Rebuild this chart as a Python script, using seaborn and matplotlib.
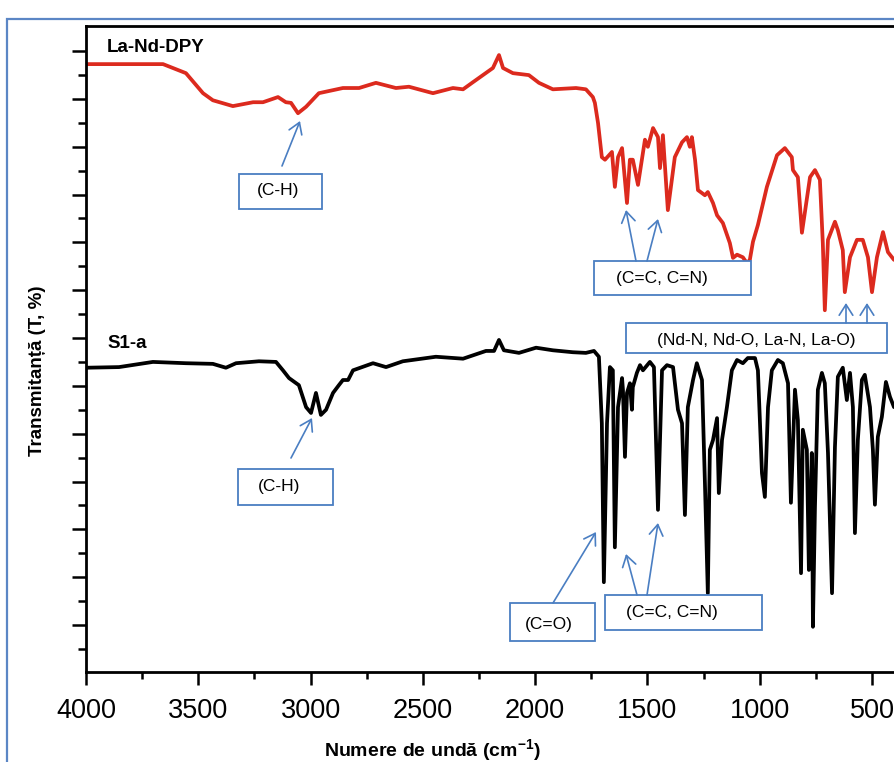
import matplotlib
matplotlib.use("Agg")
import matplotlib.pyplot as plt
import seaborn as sns
import numpy as np
import pandas as pd
from matplotlib.patches import Rectangle, FancyArrowPatch

# ---------------- data ----------------
red_wn = [4000, 3657, 3555, 3479, 3435, 3346, 3256, 3212, 3145, 3110, 3087, 3056, 3020,
          2963, 2856, 2784, 2709, 2620, 2562, 2455, 2366, 2321, 2277, 2188, 2161, 2143,
          2099, 2028, 1983, 1921, 1818, 1774, 1743, 1734, 1720, 1703, 1689, 1658, 1645,
          1631, 1613, 1591, 1578, 1565, 1542, 1511, 1498, 1475, 1453, 1444, 1431, 1409,
          1378, 1346, 1324, 1311, 1302, 1288, 1275, 1244, 1231, 1208, 1190, 1164, 1133,
          1119, 1101, 1075, 1057, 1044, 1030, 1008, 968, 923, 888, 857, 852, 830, 812,
          776, 754, 732, 719, 710, 696, 665, 652, 630, 621, 598, 567, 541, 518, 500,
          478, 451, 429, 402]
red_t = [94.1, 94.1, 92.7, 89.6, 88.5, 87.6, 88.2, 88.2, 89.0, 88.2, 88.1, 86.5, 87.5,
         89.6, 90.4, 90.4, 91.2, 90.4, 90.6, 89.6, 90.4, 90.2, 91.3, 93.5, 95.5, 93.5,
         92.7, 92.4, 91.2, 90.2, 90.4, 90.2, 89.0, 88.1, 85.0, 79.7, 79.3, 80.5, 75.1,
         79.7, 81.1, 72.6, 79.3, 79.3, 75.4, 82.4, 81.3, 84.2, 82.8, 78.0, 83.1, 71.5,
         79.7, 82.0, 82.8, 81.3, 82.8, 79.3, 74.6, 73.8, 74.3, 72.6, 70.7, 69.5, 66.4,
         64.1, 64.6, 64.2, 63.3, 63.8, 66.6, 69.2, 75.1, 80.0, 81.1, 79.7, 77.7, 76.6, 68.0,
         76.6, 77.7, 76.2, 66.4, 56.0, 66.9, 69.7, 68.4, 65.3, 58.8, 64.2, 66.9, 66.9, 64.2,
         58.8, 64.2, 68.1, 65.0, 63.8]

black_wn = [4000, 3853, 3702, 3555, 3435, 3377, 3332, 3230, 3154, 3123, 3096, 3052, 3020,
            2998, 2976, 2954, 2931, 2900, 2874, 2856, 2833, 2811, 2722, 2664, 2589, 2442,
            2321, 2219, 2183, 2161, 2139, 2072, 1996, 1921, 1832, 1774, 1738, 1716, 1703,
            1694, 1680, 1667, 1654, 1645, 1631, 1613, 1609, 1600, 1591, 1578, 1569, 1565,
            1547, 1533, 1520, 1489, 1471, 1453, 1435, 1413, 1386, 1364, 1346, 1333, 1320,
            1297, 1280, 1257, 1244, 1231, 1222, 1208, 1190, 1182, 1168, 1146, 1124, 1101,
            1075, 1053, 1021, 1008, 990, 977, 963, 946, 919, 897, 874, 861, 843, 830, 816,
            808, 790, 781, 768, 763, 754, 741, 723, 710, 696, 678, 665, 652, 630, 612, 598,
            585, 576, 563, 545, 532, 509, 496, 487, 474, 456, 438, 420, 402]
black_t = [47.1, 47.2, 48.0, 47.8, 47.7, 47.1, 47.8, 48.1, 48.0, 46.7, 45.5, 44.4, 41.0,
           40.1, 43.2, 39.8, 40.6, 43.2, 44.4, 45.2, 45.2, 46.7, 47.8, 47.2, 48.1, 48.8,
           48.5, 49.7, 49.7, 51.4, 49.8, 49.4, 50.2, 49.8, 49.5, 49.4, 49.7, 48.8, 38.5,
           13.9, 38.5, 47.2, 46.7, 19.3, 41.0, 45.5, 43.7, 33.3, 43.2, 44.7, 40.6, 44.1,
           46.3, 47.5, 46.7, 48.0, 47.2, 25.1, 46.7, 47.5, 47.2, 40.6, 38.5, 24.3, 41.0,
           45.2, 47.8, 45.2, 29.3, 12.2, 34.4, 35.9, 39.3, 27.7, 35.9, 41.0, 46.7, 48.3,
           47.8, 48.6, 48.6, 46.7, 30.8, 27.1, 41.0, 46.7, 48.3, 47.8, 44.7, 26.2, 43.7, 39.0,
           15.3, 37.5, 34.4, 15.8, 33.9, 7.0, 25.5, 43.7, 46.3, 44.7, 33.9, 12.2, 34.8, 45.7,
           47.1, 42.1, 46.3, 41.0, 21.5, 35.9, 45.2, 46.0, 41.0, 34.4, 25.9, 36.4, 39.5,
           44.9, 42.6, 41.0]

xtick_vals = [4000, 3500, 3000, 2500, 2000, 1500, 1000, 500]
series_names = ["La-Nd-DPY", "S1-a"]
annot_texts = ["(C-H)", "(C=C, C=N)", "(Nd-N, Nd-O, La-N, La-O)",
               "(C-H)", "(C=O)", "(C=C, C=N)"]

# ---------------- styling ----------------
sns.set_style("ticks")
plt.rcParams["font.family"] = ["Liberation Sans", "DejaVu Sans"]
plt.rcParams["text.color"] = "black"
plt.rcParams["axes.labelcolor"] = "black"
plt.rcParams["xtick.color"] = "black"
plt.rcParams["ytick.color"] = "black"
plt.rcParams["mathtext.fontset"] = "custom"
plt.rcParams["mathtext.rm"] = "Liberation Sans"
plt.rcParams["mathtext.bf"] = "Liberation Sans:bold"
plt.rcParams["mathtext.it"] = "Liberation Sans:italic"

W, H = 894, 762
fig = plt.figure(figsize=(W / 100, H / 100), dpi=100)
fig.patch.set_facecolor("white")

def fx(x):
    return x / W

def fy(y):
    return 1 - y / H

ax = fig.add_axes([fx(86), fy(672), (W - 86) / W, 646 / H])

df_red = pd.DataFrame({"wn": red_wn, "T": red_t})
df_blk = pd.DataFrame({"wn": black_wn, "T": black_t})
sns.lineplot(data=df_red, x="wn", y="T", ax=ax, color="#DC2A1E", lw=2.7,
             sort=False, estimator=None)
sns.lineplot(data=df_blk, x="wn", y="T", ax=ax, color="black", lw=2.7,
             sort=False, estimator=None)

ax.set_xlim(4000, 402)
ax.set_ylim(0, 100)
ax.set_xlabel("")
ax.set_ylabel("")

ax.set_xticks(xtick_vals)
ax.set_xticklabels([str(v) for v in xtick_vals])
ax.set_xticks(np.array(xtick_vals[:-1]) - 250, minor=True)

ytick_pos = (23 + 23.92 * np.arange(26)) / 6.46
ax.set_yticks(ytick_pos[1::2])
ax.set_yticks(ytick_pos[0::2], minor=True)
ax.set_yticklabels([])

for s in ["left", "bottom", "top"]:
    ax.spines[s].set_linewidth(2.0)
    ax.spines[s].set_color("black")
ax.spines["right"].set_visible(False)

ax.tick_params(axis="x", which="major", direction="out", length=9, width=1.8,
               labelsize=19.5, pad=10, colors="black")
ax.tick_params(axis="x", which="minor", direction="out", length=5, width=1.8,
               colors="black")
ax.tick_params(axis="y", which="major", direction="out", length=10, width=1.8,
               colors="black")
ax.tick_params(axis="y", which="minor", direction="out", length=5.5, width=1.8,
               colors="black")
ax.tick_params(top=False, right=False, which="both")

# axis titles
fig.text(fx(432), fy(750), "Numere de undă (cm$^{\\mathbf{-1}}$)", ha="center",
         va="center", fontsize=14, fontweight="bold", color="black")
fig.text(fx(38), fy(371), "Transmitanță (T, %)", rotation=90, ha="center",
         va="center", fontsize=13.5, fontweight="bold", color="black")

# series labels
fig.text(fx(107), fy(47), series_names[0], ha="left", va="center",
         fontsize=13.5, fontweight="bold", color="black")
fig.text(fx(107), fy(343), series_names[1], ha="left", va="center",
         fontsize=13.5, fontweight="bold", color="black")

# annotations (boxes in pixel layout)
blue = "#4A7EC2"
boxes = [  # (left, top, right, bottom, text_cx, text_cy)
    (239, 174, 322, 209, 278, 191),
    (594, 261, 751, 295, 662, 279),
    (626, 323, 887, 353, 756, 341),
    (238, 469, 333, 505, 279, 487),
    (510, 603, 595, 641, 549, 624),
    (605, 595, 762, 630, 672, 612),
]
for (l, t, r, b, cx, cy), txt in zip(boxes, annot_texts):
    rect = Rectangle((fx(l), fy(b)), (r - l) / W, (b - t) / H, transform=fig.transFigure,
                     facecolor="white", edgecolor=blue, lw=1.3, zorder=5)
    fig.add_artist(rect)
    fig.text(fx(cx), fy(cy), txt, ha="center", va="center", fontsize=12.5,
             color="black", zorder=6)

arrows = [  # (start_x, start_y, tip_x, tip_y)
    (282, 166, 300, 121),
    (636, 261, 626, 210),
    (647, 261, 658, 219),
    (846, 323, 846, 303),
    (867, 323, 867, 303),
    (291, 458, 312, 418),
    (553, 603, 596, 532),
    (637, 595, 626, 554),
    (647, 595, 658, 523),
]
for sx, sy, tx, ty in arrows:
    arr = FancyArrowPatch((fx(sx), fy(sy)), (fx(tx), fy(ty)), transform=fig.transFigure,
                          arrowstyle="->,head_length=0.55,head_width=0.35",
                          mutation_scale=14, color=blue, lw=1.2, zorder=6,
                          shrinkA=0, shrinkB=0)
    fig.add_artist(arr)

# outer blue frame (only top and left visible in the crop)
frame = Rectangle((fx(7), fy(790)), 1.2, (790 - 19) / H, transform=fig.transFigure,
                  facecolor="none", edgecolor="#5B86C5", lw=1.6, zorder=10)
fig.add_artist(frame)

fig.savefig("out.png", dpi=100)
